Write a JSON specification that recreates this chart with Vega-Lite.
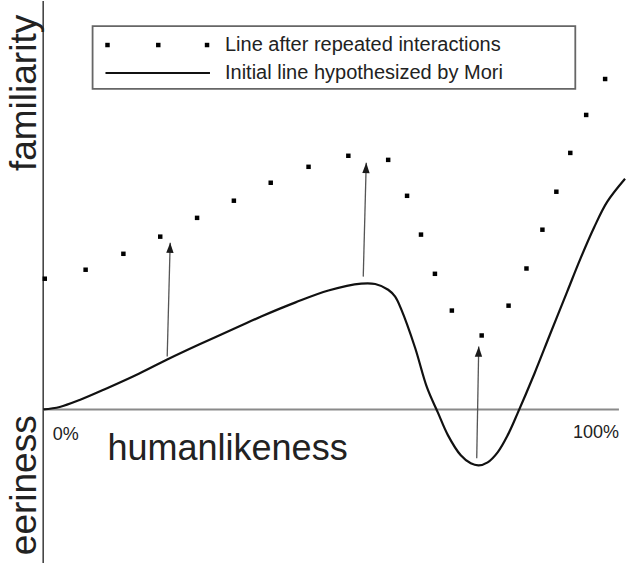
{
  "$schema": "https://vega.github.io/schema/vega-lite/v6.json",
  "width": 630,
  "height": 565,
  "autosize": {"type": "fit", "contains": "padding"},
  "padding": 0,
  "background": "white",
  "config": {"view": {"stroke": null}, "font": "Liberation Sans"},
  "datasets": {
    "curve": [
      {"h": 0, "f": 0}, {"h": 2.87, "f": 0.6}, {"h": 6.33, "f": 2.3}, {"h": 11.0, "f": 5.13},
      {"h": 16.7, "f": 8.8}, {"h": 21.54, "f": 12.22}, {"h": 27.07, "f": 15.89}, {"h": 33.99, "f": 20.29},
      {"h": 37.96, "f": 22.8}, {"h": 43.84, "f": 26.2}, {"h": 49.54, "f": 29.1}, {"h": 55.25, "f": 30.8},
      {"h": 57.67, "f": 30.7}, {"h": 59.92, "f": 29.3}, {"h": 61.13, "f": 27.6}, {"h": 62.16, "f": 24.6},
      {"h": 64.58, "f": 15.16}, {"h": 66.66, "f": 5.38}, {"h": 68.56, "f": -0.8}, {"h": 70.29, "f": -6.3},
      {"h": 72.53, "f": -11.24}, {"h": 74.26, "f": -13.2}, {"h": 75.65, "f": -13.69}, {"h": 77.2, "f": -12.96},
      {"h": 78.93, "f": -10.51}, {"h": 80.66, "f": -6.36}, {"h": 82.39, "f": -0.98}, {"h": 85.33, "f": 8.8},
      {"h": 88.09, "f": 18.58}, {"h": 91.03, "f": 28.9}, {"h": 93.28, "f": 36.8}, {"h": 95.7, "f": 44.6},
      {"h": 97.95, "f": 50.8}, {"h": 101.06, "f": 56.47}
    ],
    "dots": [
      {"h": 0.28, "f": 32.0}, {"h": 7.37, "f": 34.2}, {"h": 13.93, "f": 38.1}, {"h": 20.33, "f": 42.3},
      {"h": 26.73, "f": 46.9}, {"h": 33.12, "f": 51.1}, {"h": 39.52, "f": 55.5}, {"h": 46.09, "f": 59.4},
      {"h": 53.0, "f": 62.1}, {"h": 59.92, "f": 61.1}, {"h": 63.2, "f": 52.3}, {"h": 65.62, "f": 42.8},
      {"h": 68.04, "f": 33.2}, {"h": 70.98, "f": 24.2}, {"h": 76.16, "f": 18.1}, {"h": 80.83, "f": 25.4},
      {"h": 83.94, "f": 34.5}, {"h": 86.71, "f": 44.0}, {"h": 89.13, "f": 53.3}, {"h": 91.55, "f": 62.8},
      {"h": 94.31, "f": 72.1}, {"h": 97.6, "f": 80.9}
    ],
    "arrows": [
      {"h": 21.54, "f": 12.96, "h2": 22.06, "f2": 40.82},
      {"h": 55.59, "f": 32.51, "h2": 56.11, "f2": 60.38},
      {"h": 75.3, "f": -11.98, "h2": 75.65, "f2": 15.4}
    ],
    "legendDots": [
      {"h": 11.17, "f": 89.22}, {"h": 19.99, "f": 89.22}, {"h": 28.46, "f": 89.22}
    ]
  },
  "encoding": {
    "x": {"field": "h", "type": "quantitative", "scale": {"domain": [-7.5, 101.4], "nice": false, "zero": false}, "axis": null},
    "y": {"field": "f", "type": "quantitative", "scale": {"domain": [-38.1, 100], "nice": false, "zero": false}, "axis": null}
  },
  "layer": [
    {
      "data": {"values": [{"h": 0, "f": 100, "f2": -37.6}]},
      "mark": {"type": "rule", "color": "#3a3a3a", "strokeWidth": 1.5},
      "encoding": {"y2": {"field": "f2"}}
    },
    {
      "data": {"values": [{"h": 0, "h2": 100, "f": 0}]},
      "mark": {"type": "rule", "color": "#8a8a8a", "strokeWidth": 2},
      "encoding": {"x2": {"field": "h2"}}
    },
    {
      "data": {"name": "curve"},
      "mark": {"type": "line", "color": "#111111", "strokeWidth": 2.2, "interpolate": "catmull-rom"}
    },
    {
      "data": {"name": "dots"},
      "mark": {"type": "point", "shape": "square", "filled": true, "color": "#000000", "size": 20, "opacity": 1}
    },
    {
      "data": {"name": "arrows"},
      "mark": {"type": "rule", "color": "#555555", "strokeWidth": 1.3},
      "encoding": {"x2": {"field": "h2"}, "y2": {"field": "f2"}}
    },
    {
      "data": {"name": "arrows"},
      "mark": {"type": "point", "shape": "M0,0L-0.36,1L0.36,1Z", "filled": true, "color": "#1a1a1a", "size": 420, "opacity": 1, "angle": 1.5},
      "encoding": {"x": {"field": "h2", "type": "quantitative"}, "y": {"field": "f2", "type": "quantitative"}}
    },
    {
      "data": {"values": [{"h": 8.58, "h2": 92.42, "f": 93.87, "f2": 78.47}]},
      "mark": {"type": "rect", "fill": "white", "fillOpacity": 0, "stroke": "#666666", "strokeWidth": 1.8},
      "encoding": {"x2": {"field": "h2"}, "y2": {"field": "f2"}}
    },
    {
      "data": {"name": "legendDots"},
      "mark": {"type": "point", "shape": "square", "filled": true, "color": "#000000", "size": 20, "opacity": 1}
    },
    {
      "data": {"values": [{"h": 10.82, "h2": 28.97, "f": 82.38}]},
      "mark": {"type": "rule", "color": "#111111", "strokeWidth": 2},
      "encoding": {"x2": {"field": "h2"}}
    },
    {
      "data": {"values": [
        {"h": 31.57, "f": 89.22, "label": "Line after repeated interactions"},
        {"h": 31.57, "f": 82.38, "label": "Initial line hypothesized by Mori"}
      ]},
      "mark": {"type": "text", "align": "left", "baseline": "middle", "fontSize": 20, "color": "#222222"},
      "encoding": {"text": {"field": "label"}}
    },
    {
      "data": {"values": [
        {"h": -3.18, "f": 77.49, "label": "familiarity"},
        {"h": -3.18, "f": -18.58, "label": "eeriness"}
      ]},
      "mark": {"type": "text", "align": "center", "baseline": "middle", "angle": 270, "fontSize": 37, "color": "#222222"},
      "encoding": {"text": {"field": "label"}}
    },
    {
      "data": {"values": [{"h": 11.17, "f": -12.47, "label": "humanlikeness"}]},
      "mark": {"type": "text", "align": "left", "baseline": "alphabetic", "fontSize": 36, "color": "#222222"},
      "encoding": {"text": {"field": "label"}}
    },
    {
      "data": {"values": [{"h": 1.66, "f": -7.58, "label": "0%"}]},
      "mark": {"type": "text", "align": "left", "baseline": "alphabetic", "fontSize": 18, "color": "#222222"},
      "encoding": {"text": {"field": "label"}}
    },
    {
      "data": {"values": [{"h": 100, "f": -7.09, "label": "100%"}]},
      "mark": {"type": "text", "align": "right", "baseline": "alphabetic", "fontSize": 18, "color": "#222222"},
      "encoding": {"text": {"field": "label"}}
    }
  ]
}
